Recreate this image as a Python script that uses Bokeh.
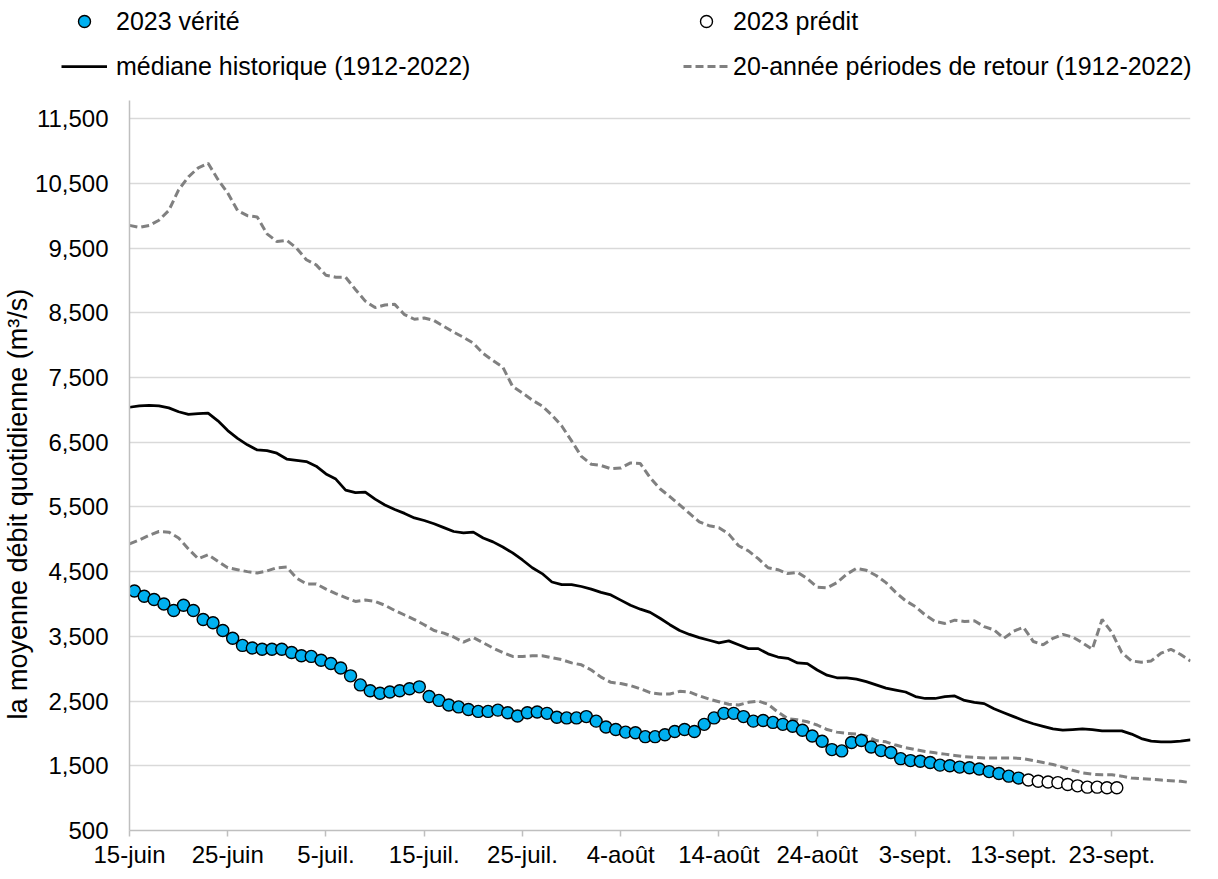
from bokeh.plotting import figure
from bokeh.layouts import column
from bokeh.models import (ColumnDataSource, Range1d, FixedTicker, NumeralTickFormatter,
                          Legend, LegendItem, Title)
from bokeh.embed import file_html
from bokeh.resources import INLINE

# ---------------- data ----------------
tick_days = [0, 10, 20, 30, 40, 50, 60, 70, 80, 90, 100]
tick_labels = ["15-juin", "25-juin", "5-juil.", "15-juil.", "25-juil.", "4-août",
               "14-août", "24-août", "3-sept.", "13-sept.", "23-sept."]

# daily values from 15 June (day 0) to 1 Oct (day 108)
upper_20yr = [9850, 9820, 9850, 9930, 10080, 10400, 10600, 10740, 10810, 10560,
              10350, 10080, 10000, 9980, 9720, 9600, 9620, 9500, 9320, 9240,
              9080, 9050, 9050, 8860, 8680, 8580, 8620, 8630, 8470, 8400,
              8420, 8380, 8290, 8200, 8120, 8030, 7870, 7760, 7660, 7360,
              7260, 7150, 7060, 6920, 6750, 6520, 6280, 6160, 6140, 6090,
              6100, 6180, 6170, 5950, 5780, 5660, 5530, 5400, 5270, 5210,
              5180, 5080, 4900, 4820, 4700, 4560, 4530, 4470, 4490, 4390,
              4260, 4250, 4330, 4460, 4550, 4520, 4440, 4330, 4180, 4050,
              3960, 3830, 3730, 3700, 3750, 3730, 3740, 3650, 3600, 3470,
              3580, 3640, 3420, 3370, 3470, 3530, 3490, 3400, 3300, 3760,
              3560, 3250, 3120, 3100, 3120, 3240, 3300, 3220, 3120]

median_hist = [7040, 7060, 7070, 7060, 7030, 6970, 6930, 6940, 6950, 6830,
               6680, 6560, 6460, 6380, 6370, 6330, 6240, 6220, 6200, 6130,
               6010, 5930, 5760, 5720, 5730, 5620, 5530, 5460, 5400, 5330,
               5290, 5240, 5180, 5120, 5100, 5110, 5020, 4960, 4880, 4790,
               4680, 4560, 4470, 4340, 4300, 4300, 4270, 4230, 4180, 4140,
               4060, 3980, 3920, 3870, 3780, 3680, 3590, 3530, 3480, 3440,
               3400, 3430, 3370, 3310, 3310, 3230, 3180, 3160, 3090, 3080,
               2980, 2900, 2860, 2860, 2840, 2800, 2750, 2700, 2670, 2640,
               2570, 2540, 2540, 2570, 2580, 2510, 2480, 2460, 2380, 2320,
               2260, 2200, 2150, 2110, 2070, 2050, 2060, 2070, 2060, 2040,
               2040, 2040, 1990, 1920, 1880, 1870, 1870, 1880, 1900]

lower_20yr = [4930, 4990, 5060, 5120, 5110, 5020, 4850, 4700, 4760, 4660,
              4560, 4530, 4500, 4480, 4510, 4560, 4570, 4400, 4310, 4310,
              4230, 4160, 4100, 4040, 4060, 4040, 3980, 3900, 3830, 3760,
              3680, 3590, 3550, 3490, 3410, 3480, 3400, 3320, 3250, 3190,
              3190, 3200, 3200, 3170, 3140, 3090, 3060, 2980, 2870, 2790,
              2770, 2740, 2690, 2630, 2610, 2610, 2650, 2640, 2580, 2530,
              2490, 2450, 2440, 2480, 2500, 2450, 2330, 2230, 2210, 2180,
              2130, 2060, 2020, 2000, 1990, 1960, 1890, 1870, 1820, 1780,
              1750, 1720, 1700, 1680, 1660, 1640, 1630, 1620, 1620, 1620,
              1620, 1610, 1580, 1550, 1520, 1480, 1430, 1390, 1370, 1360,
              1360, 1340, 1310, 1300, 1290, 1280, 1270, 1260, 1240]

# 2023 observed (15 June .. 13 Sept) and predicted (14 Sept .. 23 Sept)
obs_2023 = [4200, 4120, 4070, 4000, 3900, 3980, 3900, 3760, 3710, 3590,
            3470, 3360, 3320, 3300, 3300, 3300, 3250, 3200, 3190, 3130,
            3080, 3010, 2890, 2750, 2660, 2620, 2640, 2660, 2690, 2720,
            2570, 2510, 2440, 2410, 2370, 2340, 2340, 2360, 2320, 2270,
            2320, 2330, 2310, 2250, 2240, 2240, 2260, 2190, 2100, 2060,
            2020, 2010, 1950, 1950, 1980, 2030, 2060, 2030, 2140, 2240,
            2310, 2310, 2260, 2190, 2200, 2170, 2140, 2110, 2050, 1960,
            1880, 1750, 1730, 1860, 1890, 1790, 1735, 1705, 1610, 1580,
            1570, 1550, 1510, 1500, 1480, 1470, 1450, 1410, 1380, 1340, 1310]
pred_2023 = [1280, 1260, 1250, 1240, 1210, 1190, 1170, 1170, 1160, 1160]

y_ticks = [500, 1500, 2500, 3500, 4500, 5500, 6500, 7500, 8500, 9500, 10500, 11500]
y_title = "la moyenne débit quotidienne (m³/s)"

# ---------------- sources ----------------
line_days = list(range(len(median_hist)))
lines_src = ColumnDataSource(dict(day=line_days, upper=upper_20yr,
                                  median=median_hist, lower=lower_20yr))
obs_src = ColumnDataSource(dict(day=[i + 0.5 for i in range(len(obs_2023))], q=obs_2023))
pred_src = ColumnDataSource(dict(day=[len(obs_2023) + i + 0.5 for i in range(len(pred_2023))],
                                 q=pred_2023))

FONT = "Liberation Sans"
BLUE = "#00B0F0"
GREY = "#808080"
OBS_STYLE = dict(marker="circle", size=12, fill_color=BLUE, line_color="#000000", line_width=1.4)
PRED_STYLE = dict(marker="circle", size=12, fill_color="#FFFFFF", line_color="#000000", line_width=1.4)
MED_STYLE = dict(line_color="#000000", line_width=2.75)
RET_STYLE = dict(line_color=GREY, line_width=3, line_dash="8 4")

# ---------------- main chart ----------------
p = figure(width=1210, height=770, output_backend="svg", toolbar_location=None,
           x_range=Range1d(0, 108), y_range=Range1d(500, 11780),
           min_border_left=128, min_border_right=20, min_border_top=0,
           min_border_bottom=39)
p.outline_line_color = None
p.background_fill_color = "white"

p.xgrid.visible = False
p.ygrid.ticker = FixedTicker(ticks=y_ticks)
p.ygrid.grid_line_color = "#D9D9D9"
p.ygrid.grid_line_width = 1.5

p.xaxis.ticker = FixedTicker(ticks=tick_days)
p.xaxis.major_label_overrides = {d: lab for d, lab in zip(tick_days, tick_labels)}
p.xaxis.minor_tick_line_color = None
p.xaxis.major_tick_in = 0
p.xaxis.major_tick_out = 6
p.xaxis.major_tick_line_color = "#BFBFBF"
p.xaxis.major_tick_line_width = 1.5
p.xaxis.axis_line_color = "#BFBFBF"
p.xaxis.axis_line_width = 1.5
p.xaxis.major_label_text_font = FONT
p.xaxis.major_label_text_font_size = "24px"
p.xaxis.major_label_text_color = "#000000"
p.xaxis.major_label_standoff = 4

p.yaxis.ticker = FixedTicker(ticks=y_ticks)
p.yaxis.formatter = NumeralTickFormatter(format="0,0")
p.yaxis.minor_tick_line_color = None
p.yaxis.major_tick_in = 0
p.yaxis.major_tick_out = 0
p.yaxis.axis_line_color = "#BFBFBF"
p.yaxis.axis_line_width = 1.5
p.yaxis.major_label_text_font = FONT
p.yaxis.major_label_text_font_size = "24px"
p.yaxis.major_label_text_color = "#000000"
p.yaxis.major_label_standoff = 21

# vertical axis title, positioned like the original (lower than centre)
yt = Title(text=y_title, align="left", offset=111, standoff=0,
           text_font=FONT, text_font_size="27px", text_font_style="normal",
           text_color="#000000")
p.add_layout(yt, "left")

p.line("day", "upper", source=lines_src, **RET_STYLE)
p.line("day", "lower", source=lines_src, **RET_STYLE)
p.line("day", "median", source=lines_src, **MED_STYLE)
p.scatter("day", "q", source=obs_src, **OBS_STYLE)
p.scatter("day", "q", source=pred_src, **PRED_STYLE)

# ---------------- legend strip (same series, out of its view range) ----------------
lg = figure(width=1210, height=100, output_backend="svg", toolbar_location=None,
            x_range=Range1d(0, 1), y_range=Range1d(0, 1),
            x_axis_location=None, y_axis_location=None,
            min_border_left=0, min_border_right=0, min_border_top=0, min_border_bottom=0)
lg.frame_align = False
lg.outline_line_color = None
lg.grid.visible = False

k_obs = lg.scatter("day", "q", source=obs_src, **OBS_STYLE)
k_pred = lg.scatter("day", "q", source=pred_src, **PRED_STYLE)
k_med = lg.line("day", "median", source=lines_src, **MED_STYLE)
k_ret = lg.line("day", "upper", source=lines_src, **RET_STYLE)


def make_legend(items, x, standoff):
    leg = Legend(items=items, location=(x, 19), orientation="vertical")
    leg.label_text_font = FONT
    leg.label_text_font_size = "25px"
    leg.label_text_color = "#000000"
    leg.glyph_width = 46
    leg.glyph_height = 30
    leg.label_height = 30
    leg.spacing = 15
    leg.padding = 0
    leg.margin = 0
    leg.label_standoff = standoff
    leg.border_line_alpha = 0
    leg.background_fill_alpha = 0
    return leg


lg.add_layout(make_legend([LegendItem(label="2023 vérité", renderers=[k_obs]),
                           LegendItem(label="médiane historique (1912-2022)", renderers=[k_med])],
                          61, 9))
lg.add_layout(make_legend([LegendItem(label="2023 prédit", renderers=[k_pred]),
                           LegendItem(label="20-année périodes de retour (1912-2022)",
                                      renderers=[k_ret])],
                          683, 4))

layout = column(lg, p, spacing=0)
open("out.html", "w").write(file_html(layout, INLINE))
